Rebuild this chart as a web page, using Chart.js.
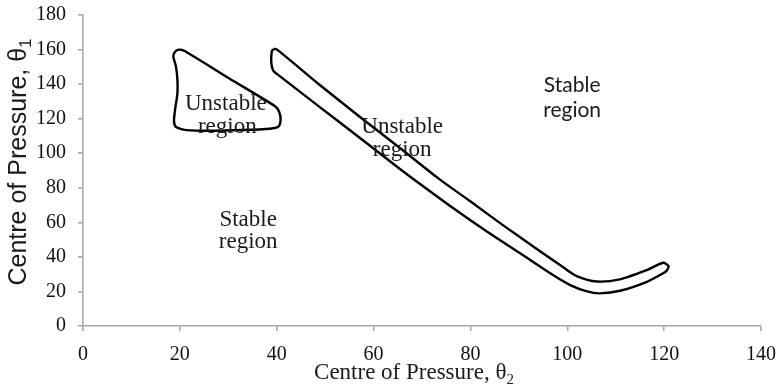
<!DOCTYPE html>
<html>
<head>
<meta charset="utf-8">
<script src="https://cdn.jsdelivr.net/npm/chart.js@4/dist/chart.umd.min.js"></script>
<style>
  html, body { margin: 0; padding: 0; background: #ffffff; }
  #wrap { width: 779px; height: 387px; }
</style>
</head>
<body>
<div id="wrap"><canvas id="c" width="779" height="387"></canvas></div>
<script>
// Axis ranges and tick steps
const xTicks = [0, 20, 40, 60, 80, 100, 120, 140];
const yTicks = [0, 20, 40, 60, 80, 100, 120, 140, 160, 180];

// Small closed unstable pocket (theta2, theta1)
const pocketX = [20.0, 21.1, 30.3, 39.6, 40.5, 40.8, 40.3, 38.6, 33.1, 26.2, 21.4, 19.3, 18.8, 19.0, 19.5, 19.5, 19.2, 18.65, 19.2, 20.0];
const pocketY = [160.1, 159.0, 143.1, 127.3, 124.0, 119.2, 115.3, 114.2, 113.4, 113.0, 113.4, 115.0, 118.2, 125.0, 134.7, 142.4, 150.1, 156.3, 159.3, 160.1];

// Long diagonal unstable band (theta2, theta1), upper edge out, lower edge back
const bandX = [39.3, 40.0, 48.9, 57.2, 65.45, 73.3, 79.9, 86.7, 93.7, 99.1, 101.95, 106.1, 110.85, 116.45, 119.8, 120.9, 120.5,
               119.8, 116.45, 110.9, 106.75, 104.1, 100.6, 97.05, 90.2, 83.4, 76.4, 69.6, 65.45, 57.2, 48.9, 40.1, 39.3, 38.9, 38.96, 39.3];
const bandY = [160.3, 160.1, 139.5, 120.95, 103.0, 85.6, 72.3, 58.4, 44.6, 34.1, 28.9, 25.75, 27.0, 32.4, 36.6, 34.7, 32.0,
               30.5, 25.6, 20.4, 18.9, 20.0, 23.7, 29.5, 42.2, 54.7, 68.3, 82.2, 90.9, 108.8, 126.7, 145.8, 147.7, 152.0, 158.7, 160.3];

// Region captions, baseline positions in data units
const captionText = ['Unstable', 'region', 'Unstable', 'region', 'Stable', 'region', 'Stable', 'region'];
const captionX    = [29.5, 29.8, 65.9, 65.9, 101.0, 101.0, 34.1, 34.1];
const captionY    = [125.0, 111.6, 111.5, 98.4, 135.2, 121.2, 57.9, 45.0];
const captionFont = ['serif', 'serif', 'serif', 'serif', 'sans', 'sans', 'serif', 'serif'];

const xTitle = ['Centre of Pressure, \u03b8', '2'];
const yTitle = ['Centre of Pressure, \u03b8', '1'];

function toPoints(xs, ys) {
  return xs.map((x, i) => ({ x: x, y: ys[i] }));
}

const SERIF = '"Liberation Serif", "Times New Roman", serif';
const SANS_CAPTION = 'Lato, "Liberation Sans", sans-serif';
const SANS_TITLE = '"Liberation Sans", Arial, sans-serif';

const captionPlugin = {
  id: 'captions',
  afterDatasetsDraw(chart) {
    const ctx = chart.ctx;
    const sx = chart.scales.x, sy = chart.scales.y;
    ctx.save();
    ctx.textAlign = 'center';
    ctx.textBaseline = 'alphabetic';
    ctx.fillStyle = '#1a1a1a';
    captionText.forEach((t, i) => {
      ctx.font = captionFont[i] === 'sans' ? '21px ' + SANS_CAPTION : '23px ' + SERIF;
      ctx.fillText(t, sx.getPixelForValue(captionX[i]), sy.getPixelForValue(captionY[i]));
    });
    ctx.restore();
  }
};

// Axis titles with a subscripted index
function drawSubTitle(ctx, parts, font, subFont, subShift) {
  ctx.font = font;
  const w1 = ctx.measureText(parts[0]).width;
  ctx.font = subFont;
  const w2 = ctx.measureText(parts[1]).width;
  const start = -(w1 + w2) / 2;
  ctx.textAlign = 'left';
  ctx.textBaseline = 'alphabetic';
  ctx.font = font;
  ctx.fillText(parts[0], start, 0);
  ctx.font = subFont;
  ctx.fillText(parts[1], start + w1, subShift);
}

const titlePlugin = {
  id: 'axisTitles',
  afterDraw(chart) {
    const ctx = chart.ctx;
    ctx.save();
    ctx.fillStyle = '#1a1a1a';
    // horizontal title under the x axis
    ctx.save();
    ctx.translate(414, 379);
    drawSubTitle(ctx, xTitle, '23px ' + SERIF, '15px ' + SERIF, 5);
    ctx.restore();
    // vertical title beside the y axis
    ctx.save();
    ctx.translate(26, 162);
    ctx.rotate(-Math.PI / 2);
    drawSubTitle(ctx, yTitle, '25px ' + SANS_TITLE, '17px ' + SANS_TITLE, 5);
    ctx.restore();
    ctx.restore();
  }
};

const lineStyle = {
  showLine: true,
  borderColor: '#000000',
  borderWidth: 2.4,
  pointRadius: 0,
  pointHoverRadius: 0,
  tension: 0.25,
  fill: false
};

new Chart(document.getElementById('c'), {
  type: 'scatter',
  data: {
    datasets: [
      Object.assign({ label: 'pocket', data: toPoints(pocketX, pocketY) }, lineStyle),
      Object.assign({ label: 'band', data: toPoints(bandX, bandY) }, lineStyle)
    ]
  },
  options: {
    responsive: false,
    animation: false,
    layout: { padding: { left: 0, top: 15, right: 18, bottom: 0 } },
    plugins: { legend: { display: false }, tooltip: { enabled: false } },
    scales: {
      x: {
        type: 'linear',
        min: xTicks[0],
        max: xTicks[xTicks.length - 1],
        afterBuildTicks: s => { s.ticks = xTicks.map(v => ({ value: v })); },
        afterFit: s => { s.height = 61; s.paddingLeft = 0; s.paddingRight = 0; },
        border: { display: true, color: '#a6a6a6', width: 1.5 },
        grid: { drawOnChartArea: false, drawTicks: true, tickLength: 5, color: '#a6a6a6', lineWidth: 1.5 },
        ticks: { color: '#111111', padding: 12, maxRotation: 0, font: { family: SERIF, size: 20 } }
      },
      y: {
        type: 'linear',
        min: yTicks[0],
        max: yTicks[yTicks.length - 1],
        afterBuildTicks: s => { s.ticks = yTicks.map(v => ({ value: v })); },
        afterFit: s => { s.width = 83; s.paddingTop = 0; s.paddingBottom = 0; },
        border: { display: true, color: '#a6a6a6', width: 1.5 },
        grid: { drawOnChartArea: false, drawTicks: true, tickLength: 5, color: '#a6a6a6', lineWidth: 1.5 },
        ticks: { color: '#111111', padding: 12, font: { family: SERIF, size: 20 } }
      }
    }
  },
  plugins: [captionPlugin, titlePlugin]
});
</script>
</body>
</html>
